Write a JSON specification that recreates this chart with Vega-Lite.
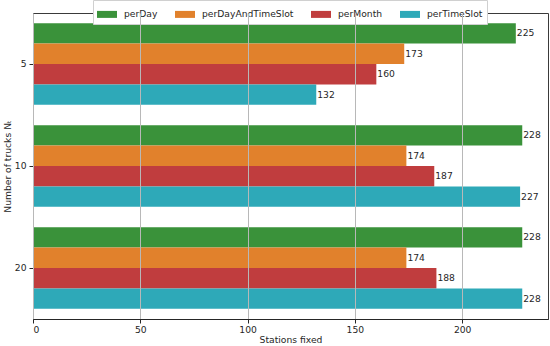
{
  "$schema": "https://vega.github.io/schema/vega-lite/v6.json",
  "width": 515,
  "height": 306,
  "autosize": {"type": "none"},
  "padding": {"left": 33, "top": 13, "right": 2, "bottom": 27},
  "background": "white",
  "config": {
    "font": "DejaVu Sans",
    "view": {"stroke": "#3a3a3a", "strokeWidth": 1}
  },
  "data": {
    "values": [
      {"trucks": "5", "method": "perDay", "stations": 225},
      {"trucks": "5", "method": "perDayAndTimeSlot", "stations": 173},
      {"trucks": "5", "method": "perMonth", "stations": 160},
      {"trucks": "5", "method": "perTimeSlot", "stations": 132},
      {"trucks": "10", "method": "perDay", "stations": 228},
      {"trucks": "10", "method": "perDayAndTimeSlot", "stations": 174},
      {"trucks": "10", "method": "perMonth", "stations": 187},
      {"trucks": "10", "method": "perTimeSlot", "stations": 227},
      {"trucks": "20", "method": "perDay", "stations": 228},
      {"trucks": "20", "method": "perDayAndTimeSlot", "stations": 174},
      {"trucks": "20", "method": "perMonth", "stations": 188},
      {"trucks": "20", "method": "perTimeSlot", "stations": 228}
    ]
  },
  "encoding": {
    "y": {
      "field": "trucks",
      "type": "nominal",
      "sort": ["5", "10", "20"],
      "scale": {"paddingInner": 0.2, "paddingOuter": 0.1},
      "axis": {
        "title": "Number of trucks Nₜ",
        "titleFontSize": 9.2,
        "titleFontWeight": "normal",
        "titleColor": "#262626",
        "titlePadding": 2,
        "labelFontSize": 9.2,
        "labelColor": "#262626",
        "labelPadding": 3,
        "tickSize": 4,
        "tickColor": "#262626",
        "domainColor": "#262626",
        "grid": false
      }
    },
    "yOffset": {
      "field": "method",
      "type": "nominal",
      "sort": ["perDay", "perDayAndTimeSlot", "perMonth", "perTimeSlot"],
      "scale": {"paddingInner": 0, "paddingOuter": 0}
    },
    "x": {
      "field": "stations",
      "type": "quantitative",
      "scale": {"domain": [0, 240], "nice": false},
      "axis": {
        "title": "Stations fixed",
        "titleFontSize": 9.2,
        "titleFontWeight": "normal",
        "titleColor": "#262626",
        "titlePadding": 1,
        "labelFontSize": 9.2,
        "labelColor": "#262626",
        "labelPadding": 2,
        "tickSize": 4,
        "tickColor": "#262626",
        "domainColor": "#262626",
        "values": [0, 50, 100, 150, 200],
        "grid": true,
        "gridColor": "#b8b8b8",
        "gridWidth": 1,
        "zindex": 1
      }
    }
  },
  "layer": [
    {
      "mark": {"type": "bar", "height": {"band": 1}},
      "encoding": {
        "color": {
          "field": "method",
          "type": "nominal",
          "scale": {
            "domain": ["perDay", "perDayAndTimeSlot", "perMonth", "perTimeSlot"],
            "range": ["#3a923a", "#e1812c", "#c03d3e", "#2ea9b8"]
          },
          "legend": {
            "title": null,
            "orient": "none",
            "direction": "horizontal",
            "legendX": 60,
            "legendY": -13,
            "padding": 4,
            "fillColor": "white",
            "strokeColor": "#d0d0d0",
            "symbolType": "M-1,-0.35H1V0.35H-1Z",
            "symbolSize": 400,
            "symbolStrokeWidth": 0,
            "labelFontSize": 9.2,
            "labelColor": "#262626",
            "labelOffset": 7,
            "columnPadding": 17
          }
        }
      }
    },
    {
      "mark": {"type": "text", "align": "left", "baseline": "middle", "dx": 1, "fontSize": 9.2, "color": "#262626"},
      "encoding": {
        "text": {"field": "stations", "type": "quantitative"}
      }
    }
  ]
}
